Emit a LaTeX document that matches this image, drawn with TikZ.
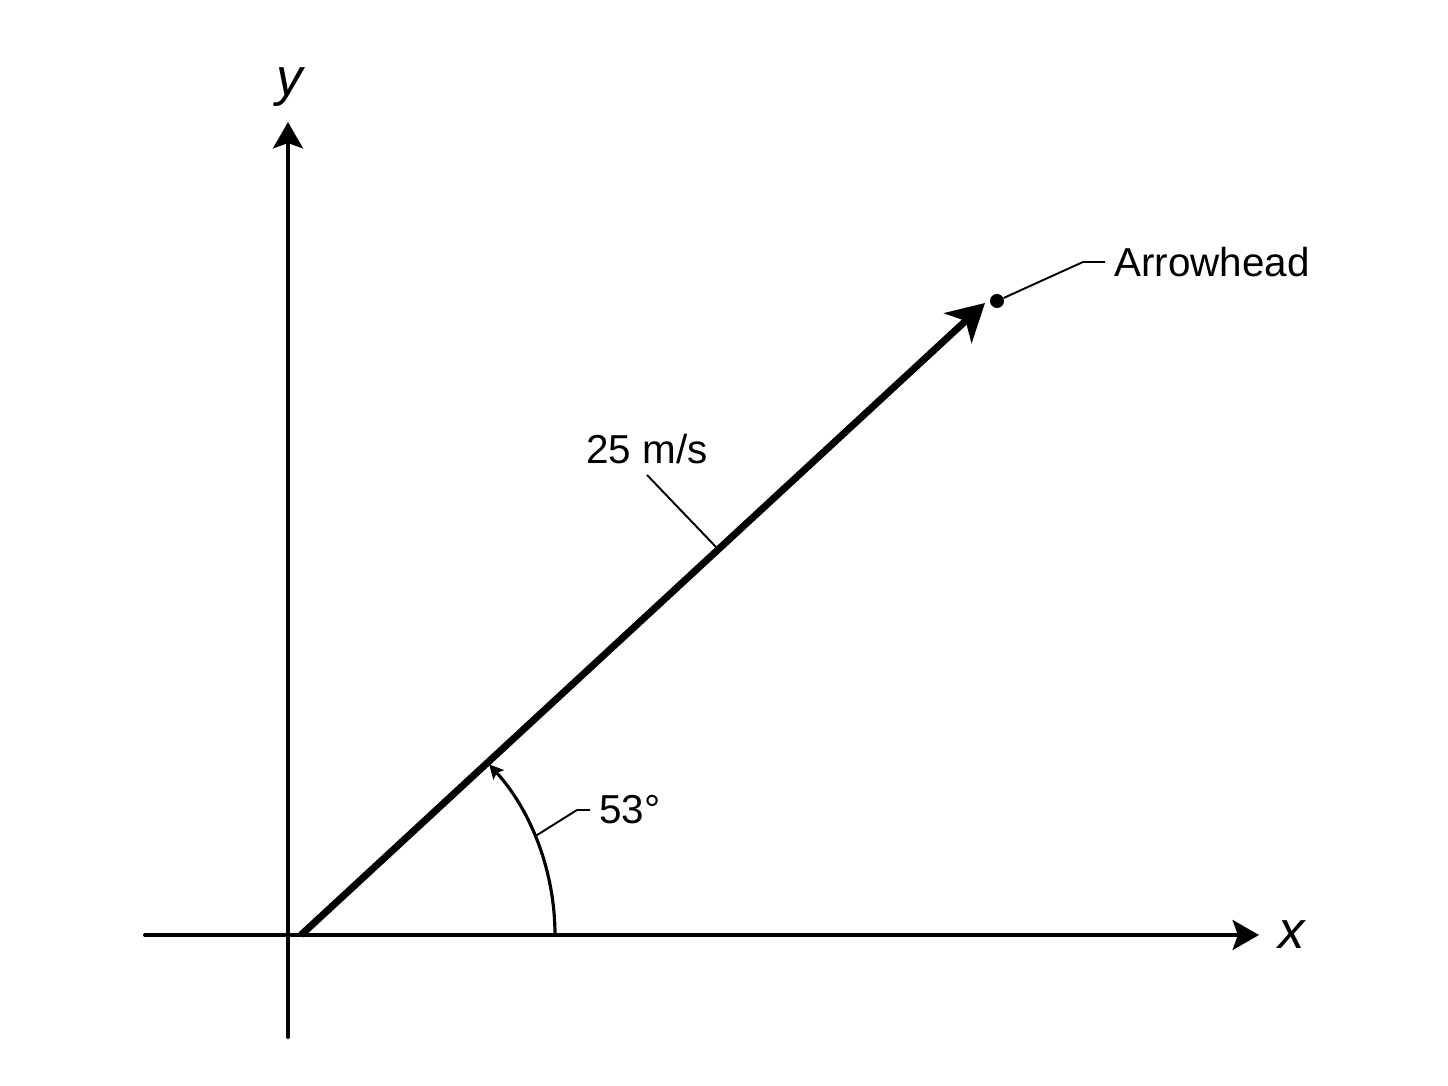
\documentclass[tikz,border=0pt]{standalone}
\usepackage{fontspec}
\setmainfont{Liberation Sans}
\usetikzlibrary{arrows.meta}

\begin{document}
\begin{tikzpicture}[x = 0.02cm, y = 0.02cm,
  font = \fontsize{23}{27}\selectfont,
  axis/.style = {line width = 2.3pt, line cap = round, -{Stealth[length = 15pt, width = 17pt, inset = 3pt]}},
  vec/.style = {line width = 4pt, -{Stealth[length = 21pt, width = 23pt, inset = 6pt]}},
  angarc/.style = {line width = 1.8pt, -{Stealth[length = 8pt, width = 8pt, inset = 1.5pt]}},
  leader/.style = {line width = 1.1pt},
  axlabel/.style = {font = \fontsize{30}{36}\selectfont\itshape}]
\useasboundingbox (0,0) rectangle (1448,1086);
% axes
\coordinate (Xl) at (145,151);
\coordinate (Xr) at (1259,151);
\coordinate (Yb) at (288,49);
\coordinate (Yt) at (288,964);
\draw [axis] (Xl) -- (Xr);
\draw [axis] (Yb) -- (Yt);
\node [axlabel] (xlab) at (1292,151) {x};
\node [axlabel] (ylab) at (290,999) {y};
% velocity vector
\coordinate (V0) at (301,151);
\coordinate (V1) at (985,783);
\draw [vec] (V0) -- (V1);
\node [circle, fill, inner sep = 0pt, minimum size = 14*0.02cm] (tipdot) at (997,785) {};
\coordinate (bendA) at (1083,824);
\node [anchor = west, inner sep = 5pt] (arrowlab) at (1105,824) {Arrowhead};
\draw [leader] (tipdot) -- (bendA) -- (arrowlab.west);
\node (speed) at (647,637) {25 m/s};
\coordinate (onvec) at (716,539);
\draw [leader] (647,611) -- (onvec);
% angle
\draw [angarc] (555,151) arc[start angle = 0, end angle = 42.2, radius = 254];
\coordinate (arcpt) at ([shift = {(22.9:255)}]V0);
\coordinate (bendB) at (577,276);
\node [anchor = west, inner sep = 5pt] (anglab) at (590,276) {53°};
\draw [leader] (arcpt) -- (bendB) -- (anglab.west);
\end{tikzpicture}
\end{document}
